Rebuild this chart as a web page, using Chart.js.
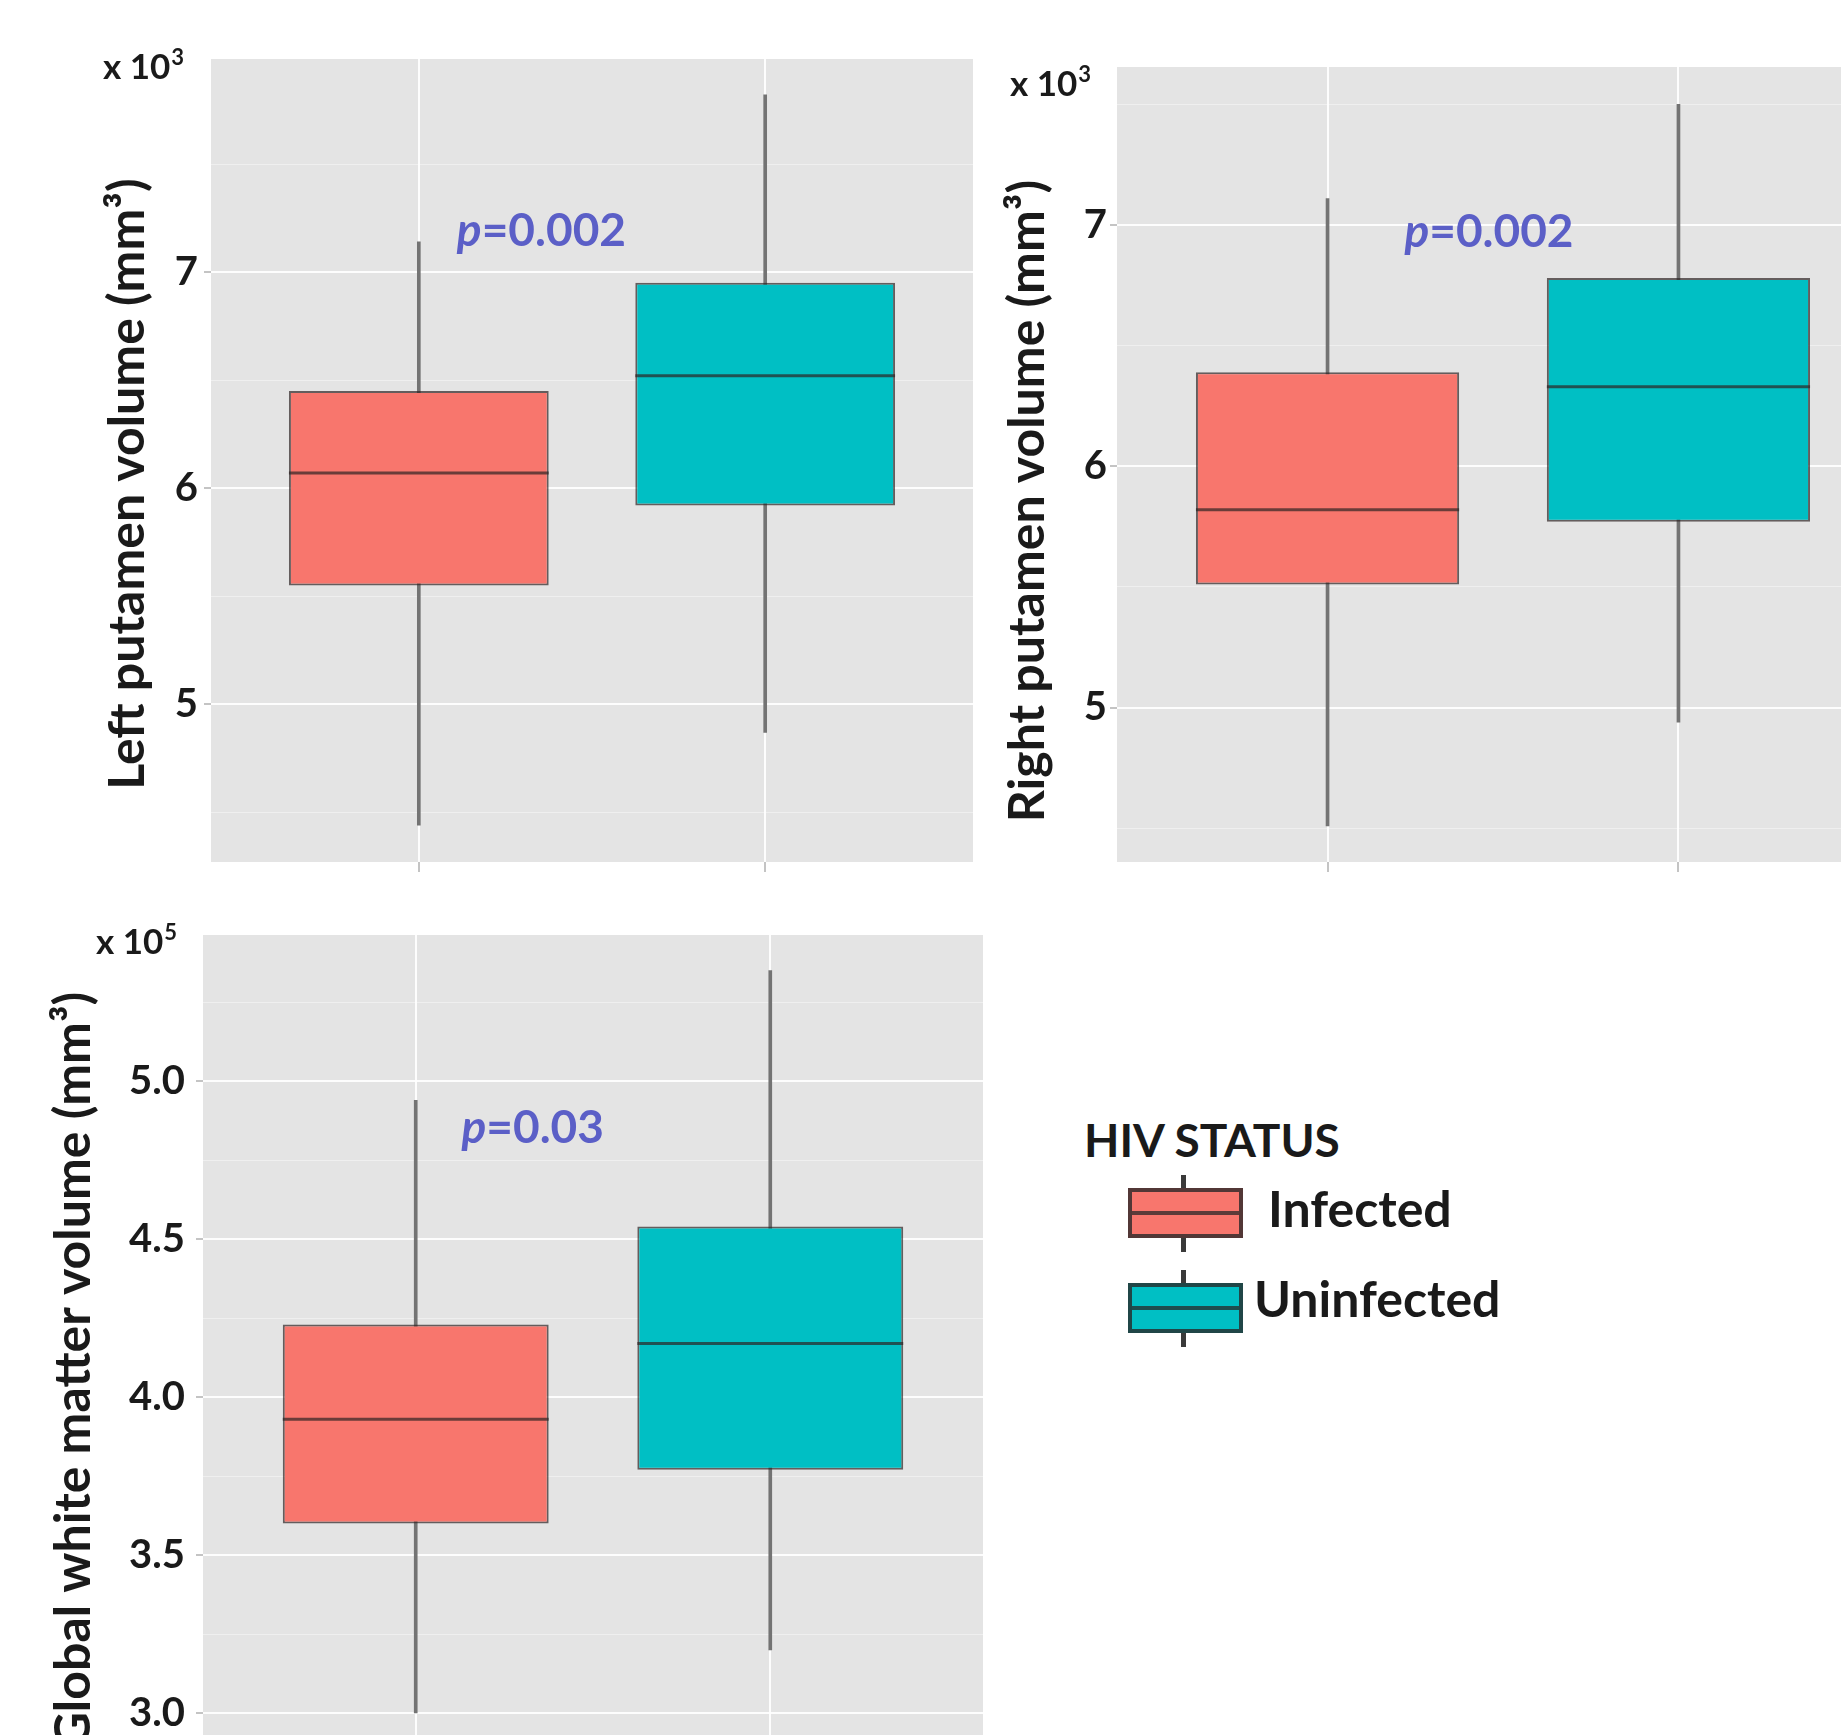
<!DOCTYPE html>
<html>
<head>
<meta charset="utf-8">
<script src="https://cdn.jsdelivr.net/npm/chart.js@4.4.1/dist/chart.umd.min.js"></script>
<style>
  html, body { margin: 0; padding: 0; background: #fff; overflow: hidden; }
  body { width: 1841px; height: 1735px; position: relative; font-family: Lato, 'Open Sans', sans-serif; color: #1a1a1a; }
  .panel { position: absolute; width: 1000px; height: 900px; }
  .lg { position: absolute; font-weight: bold; line-height: 1; white-space: nowrap; }
  .key { position: absolute; box-sizing: border-box; border: 4px solid rgba(40,40,40,0.8); }
  .key .med { position: absolute; left: 0; right: 0; top: 50%; height: 4px; margin-top: -2px; background: rgba(40,40,40,0.75); }
  .stub { position: absolute; width: 5px; background: #3a3a3a; }
</style>
</head>
<body>
<div class="panel" style="left:0;top:0"><canvas id="leftChart" width="1000" height="900"></canvas></div>
<div class="panel" style="left:1000px;top:0"><canvas id="rightChart" width="1000" height="900"></canvas></div>
<div class="panel" style="left:0;top:900px"><canvas id="wmChart" width="1000" height="900"></canvas></div>
<div id="legend"></div>
<script>
const groups = ['Infected', 'Uninfected'];
const groupX = [1, 2];
const groupColors = ['#F8766D', '#00BFC4'];

// Left putamen volume, x 10^3 mm^3
const leftLower = [4.44, 4.87];
const leftQ1 = [5.55, 5.92];
const leftMedian = [6.07, 6.52];
const leftQ3 = [6.45, 6.95];
const leftUpper = [7.14, 7.82];
const leftTicks = [5, 6, 7];
const leftTickLabels = ['5', '6', '7'];
const leftMinor = [4.5, 5.5, 6.5, 7.5];

// Right putamen volume, x 10^3 mm^3
const rightLower = [4.51, 4.94];
const rightQ1 = [5.51, 5.77];
const rightMedian = [5.82, 6.33];
const rightQ3 = [6.39, 6.78];
const rightUpper = [7.11, 7.50];
const rightTicks = [5, 6, 7];
const rightTickLabels = ['5', '6', '7'];
const rightMinor = [4.5, 5.5, 6.5, 7.5];

// Global white matter volume, x 10^5 mm^3
const wmLower = [3.00, 3.20];
const wmQ1 = [3.60, 3.77];
const wmMedian = [3.93, 4.17];
const wmQ3 = [4.23, 4.54];
const wmUpper = [4.94, 5.35];
const wmTicks = [3.0, 3.5, 4.0, 4.5, 5.0];
const wmTickLabels = ['3.0', '3.5', '4.0', '4.5', '5.0'];
const wmMinor = [3.25, 3.75, 4.25, 4.75, 5.25];

function decor(p) {
  return {
    id: 'decor',
    beforeDraw(chart) {
      const { ctx, chartArea: a } = chart;
      ctx.save();
      ctx.fillStyle = '#e4e4e4';
      ctx.fillRect(a.left, a.top, a.width, a.height);
      ctx.restore();
    },
    afterDatasetsDraw(chart) {
      const ctx = chart.ctx;
      const y = chart.scales.y;
      const bars = chart.getDatasetMeta(0).data;
      ctx.save();
      ctx.lineWidth = 3;
      ctx.strokeStyle = 'rgba(45,35,35,0.7)';
      p.median.forEach((m, i) => {
        const b = bars[i];
        const py = y.getPixelForValue(m);
        ctx.beginPath();
        ctx.moveTo(b.x - b.width / 2, py);
        ctx.lineTo(b.x + b.width / 2, py);
        ctx.stroke();
      });
      ctx.restore();
    },
    afterDraw(chart) {
      const ctx = chart.ctx;
      const x = chart.scales.x, y = chart.scales.y;

      // y axis title
      ctx.save();
      ctx.fillStyle = '#1a1a1a';
      ctx.translate(p.titlePos[0], p.titlePos[1]);
      ctx.rotate(-Math.PI / 2);
      ctx.font = 'bold 50px Lato';
      ctx.textAlign = 'center';
      ctx.fillText(p.title, 0, 0);
      ctx.restore();

      // multiplier x 10^n
      ctx.save();
      ctx.fillStyle = '#1a1a1a';
      ctx.translate(p.multPos[0], p.multPos[1]);
      ctx.font = 'bold 35px Lato';
      ctx.fillText('x 10', 0, 0);
      const w = ctx.measureText('x 10').width;
      ctx.font = 'bold 22px Lato';
      ctx.fillText(p.exponent, w + 1, -14);
      ctx.restore();

      // p value
      ctx.save();
      ctx.fillStyle = '#5b5fc7';
      ctx.textBaseline = 'middle';
      ctx.font = 'italic bold 46px Lato';
      const w1 = ctx.measureText('p').width;
      ctx.font = 'bold 46px Lato';
      const w2 = ctx.measureText(p.pValue).width;
      const sx = x.getPixelForValue(p.pPos[0]) - (w1 + w2) / 2;
      const sy = y.getPixelForValue(p.pPos[1]);
      ctx.font = 'italic bold 46px Lato';
      ctx.fillText('p', sx, sy);
      ctx.font = 'bold 46px Lato';
      ctx.fillText(p.pValue, sx + w1, sy);
      ctx.restore();
    }
  };
}

function boxChart(id, p) {
  const isMajor = v => p.ticks.includes(v);
  return new Chart(document.getElementById(id), {
    type: 'bar',
    data: {
      datasets: [
        {
          label: 'box',
          data: groupX.map((x, i) => ({ x: x, y: [p.q1[i], p.q3[i]] })),
          backgroundColor: groupColors,
          borderColor: 'rgba(45,35,35,0.7)',
          borderWidth: 2,
          borderSkipped: false,
          grouped: false,
          categoryPercentage: 1,
          barPercentage: 0.75,
          order: 1
        },
        {
          label: 'whisker',
          data: groupX.map((x, i) => ({ x: x, y: [p.lower[i], p.upper[i]] })),
          backgroundColor: '#737373',
          barThickness: 3,
          grouped: false,
          order: 2
        }
      ]
    },
    options: {
      responsive: false,
      animation: false,
      events: [],
      layout: { padding: p.padding },
      plugins: { legend: { display: false }, tooltip: { enabled: false } },
      scales: {
        x: {
          type: 'linear',
          min: 0.4,
          max: 2.6,
          offset: false,
          afterBuildTicks: s => { s.ticks = groupX.map(v => ({ value: v })); },
          afterFit: s => { s.height = 12; },
          ticks: { display: false },
          grid: { offset: false, color: 'rgba(255,255,255,0.9)', lineWidth: 2, tickColor: '#c4c4c4', tickLength: 10 },
          border: { display: false }
        },
        y: {
          min: p.range[0],
          max: p.range[1],
          afterBuildTicks: s => {
            s.ticks = p.ticks.concat(p.minor).sort((a, b) => a - b).map(v => ({ value: v }));
          },
          afterFit: s => { s.width = p.axisWidth; },
          ticks: {
            autoSkip: false,
            font: { family: 'Lato', size: 40, weight: 'bold' },
            color: '#1a1a1a',
            padding: p.tickPad,
            callback: v => {
              const k = p.ticks.indexOf(v);
              return k < 0 ? '' : p.labels[k];
            }
          },
          grid: {
            color: c => isMajor(c.tick.value) ? 'rgba(255,255,255,0.9)' : 'rgba(255,255,255,0.4)',
            lineWidth: c => isMajor(c.tick.value) ? 2 : 1,
            tickColor: c => isMajor(c.tick.value) ? '#c4c4c4' : 'rgba(0,0,0,0)',
            tickLength: 7
          },
          border: { display: false }
        }
      }
    },
    plugins: [decor(p)]
  });
}

boxChart('leftChart', {
  lower: leftLower, q1: leftQ1, median: leftMedian, q3: leftQ3, upper: leftUpper,
  ticks: leftTicks, labels: leftTickLabels, minor: leftMinor,
  range: [4.27, 7.986],
  padding: { left: 0, top: 59, right: 27, bottom: 26 },
  axisWidth: 211, tickPad: 6,
  title: 'Left putamen volume (mm\u00B3)', titlePos: [144, 484],
  exponent: '3', multPos: [103, 79],
  pValue: '=0.002', pPos: [1.354, 7.19]
});

boxChart('rightChart', {
  lower: rightLower, q1: rightQ1, median: rightMedian, q3: rightQ3, upper: rightUpper,
  ticks: rightTicks, labels: rightTickLabels, minor: rightMinor,
  range: [4.36, 7.655],
  padding: { left: 0, top: 67, right: 111, bottom: 26 },
  axisWidth: 117, tickPad: 3,
  title: 'Right putamen volume (mm\u00B3)', titlePos: [44, 501],
  exponent: '3', multPos: [10, 96],
  pValue: '=0.002', pPos: [1.46, 6.97]
});

boxChart('wmChart', {
  lower: wmLower, q1: wmQ1, median: wmMedian, q3: wmQ3, upper: wmUpper,
  ticks: wmTicks, labels: wmTickLabels, minor: wmMinor,
  range: [2.883, 5.463],
  padding: { left: 0, top: 32, right: 17, bottom: 38 },
  axisWidth: 203, tickPad: 11,
  title: 'Global white matter volume (mm\u00B3)', titlePos: [90, 470],
  exponent: '5', multPos: [96, 54],
  pValue: '=0.03', pPos: [1.33, 4.852]
});

// legend
const legend = document.getElementById('legend');
const keyTops = [1188, 1283];
const labelLefts = [1268, 1254];
const labelTops = [1183, 1273];
let html = '<div class="lg" style="left:1084px;top:1117px;font-size:46px">HIV STATUS</div>';
groups.forEach((g, i) => {
  const t = keyTops[i];
  html += `<div class="stub" style="left:1181px;top:${t - 13}px;height:13px"></div>`;
  html += `<div class="stub" style="left:1181px;top:${t + 50}px;height:14px"></div>`;
  html += `<div class="key" style="left:1128px;top:${t}px;width:115px;height:50px;background:${groupColors[i]}"><div class="med"></div></div>`;
  html += `<div class="lg" style="left:${labelLefts[i]}px;top:${labelTops[i]}px;font-size:50px">${g}</div>`;
});
legend.innerHTML = html;
</script>
</body>
</html>
